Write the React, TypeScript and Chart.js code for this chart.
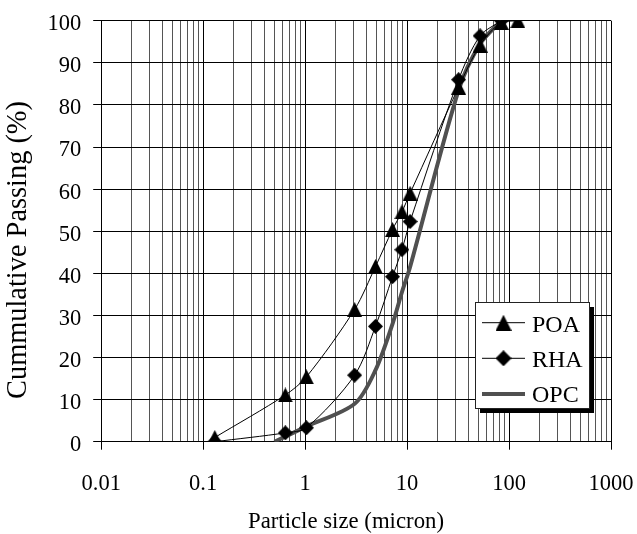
import React, { useEffect, useRef } from "react";
import { Chart, registerables } from "chart.js";

Chart.register(...registerables);

// ---- Data ----
const poaSize = [0.13, 0.64, 1.03, 3.06, 4.9, 7.2, 8.9, 10.7, 32, 52, 84, 122];
const poaPassing = [1, 11.1, 15.4, 31.4, 41.6, 50.4, 54.6, 59.0, 84.2, 94.2, 99.6, 100];

const rhaSize = [0.13, 0.64, 1.03, 3.06, 4.9, 7.2, 8.9, 10.7, 32, 52, 84];
const rhaPassing = [0, 2.1, 3.3, 15.8, 27.4, 39.2, 45.6, 52.3, 86, 96.4, 100];

const opcSize = [0.5, 1.03, 3.06, 4.9, 7.2, 8.9, 10.7, 32, 52, 84];
const opcPassing = [0, 3.6, 9, 17, 28, 35.5, 41.5, 83.5, 94.5, 100];

const xDecades = [0.01, 0.1, 1, 10, 100, 1000];
const xTickLabels = ["0.01", "0.1", "1", "10", "100", "1000"];
const yTickValues = [0, 10, 20, 30, 40, 50, 60, 70, 80, 90, 100];
const yTickLabels = ["0", "10", "20", "30", "40", "50", "60", "70", "80", "90", "100"];

const seriesNames = ["POA", "RHA", "OPC"];
const xTitle = "Particle size (micron)";
const yTitle = "Cummulative Passing (%)";

const FONT = "'Liberation Serif', 'Times New Roman', serif";
const TICK_FS = 22.5;

const isDecade = (v: number) => Math.abs(Math.log10(v) - Math.round(Math.log10(v))) < 1e-6;

const xGridValues: number[] = [];
xDecades.forEach((d, i) => {
  if (i === xDecades.length - 1) {
    xGridValues.push(d);
    return;
  }
  for (let m = 1; m <= 9; m++) xGridValues.push(+(d * m).toPrecision(6));
});

function makeMarker(kind: "triangle" | "diamond", size: number) {
  const c = document.createElement("canvas");
  c.width = size;
  c.height = size;
  const g = c.getContext("2d")!;
  g.fillStyle = "#000";
  g.beginPath();
  if (kind === "triangle") {
    g.moveTo(size / 2, 0);
    g.lineTo(size, size);
    g.lineTo(0, size);
  } else {
    g.moveTo(size / 2, 0);
    g.lineTo(size, size / 2);
    g.lineTo(size / 2, size);
    g.lineTo(0, size / 2);
  }
  g.closePath();
  g.fill();
  return c;
}

// draw text so that it spans exactly `span` pixels along its direction
function fitText(ctx: CanvasRenderingContext2D, text: string, span: number, ref: number) {
  ctx.font = `${ref}px ${FONT}`;
  const w = ctx.measureText(text).width;
  const size = (ref * span) / w;
  ctx.font = `${size}px ${FONT}`;
}

export default function App() {
  const ref = useRef<HTMLCanvasElement | null>(null);

  useEffect(() => {
    if (!ref.current) return;
    document.body.style.margin = "0";
    const tri = makeMarker("triangle", 15);
    const dia = makeMarker("diamond", 15);
    const triL = makeMarker("triangle", 16);
    const diaL = makeMarker("diamond", 16);

    const titlesAndLegend = {
      id: "titlesAndLegend",
      afterDraw(chart: any) {
        const ctx = chart.ctx as CanvasRenderingContext2D;
        ctx.save();
        ctx.fillStyle = "#000";
        ctx.textAlign = "center";
        ctx.textBaseline = "alphabetic";
        // x title: spans x 248..444
        fitText(ctx, xTitle, 196, 22);
        ctx.fillText(xTitle, 346, 528.3);
        // y title: spans y 100..400
        ctx.save();
        ctx.translate(26, 250);
        ctx.rotate(-Math.PI / 2);
        fitText(ctx, yTitle, 298, 27);
        ctx.fillText(yTitle, 0, 0);
        ctx.restore();

        // legend box
        const left = 475, top = 302, w = 114, h = 106;
        ctx.fillStyle = "#000";
        ctx.fillRect(left + 5, top + 5, w, h);
        ctx.fillStyle = "#fff";
        ctx.fillRect(left, top, w, h);
        ctx.strokeStyle = "#222";
        ctx.lineWidth = 1;
        ctx.strokeRect(left + 0.5, top + 0.5, w, h);
        const rows = [322.7, 358.3, 394];
        const baselines = [331.7, 366.9, 401.9];
        const x0 = 482, x1 = 525, xm = 503.5;
        const markers = [triL, diaL, null];
        chart.data.datasets.forEach((ds: any, i: number) => {
          const y = rows[i];
          ctx.beginPath();
          ctx.strokeStyle = ds.borderColor;
          ctx.lineWidth = ds.borderWidth;
          ctx.moveTo(x0, y);
          ctx.lineTo(x1, y);
          ctx.stroke();
          const m = markers[i];
          if (m) ctx.drawImage(m, xm - m.width / 2, y - m.height / 2);
          ctx.fillStyle = "#000";
          ctx.font = `24px ${FONT}`;
          ctx.textAlign = "left";
          ctx.textBaseline = "alphabetic";
          ctx.fillText(seriesNames[i], 532, baselines[i]);
        });
        ctx.restore();
      },
    };

    const toPts = (xs: number[], ys: number[]) => xs.map((x, i) => ({ x, y: ys[i] }));
    const chart = new Chart(ref.current, {
      type: "line",
      data: {
        datasets: [
          {
            label: seriesNames[0],
            data: toPts(poaSize, poaPassing),
            borderColor: "#000",
            backgroundColor: "#000",
            borderWidth: 1,
            pointStyle: tri,
            pointRadius: 7.5,
            tension: 0.3,
            order: 0,
          },
          {
            label: seriesNames[1],
            data: toPts(rhaSize, rhaPassing),
            borderColor: "#000",
            backgroundColor: "#000",
            borderWidth: 1,
            pointStyle: dia,
            pointRadius: 7.5,
            tension: 0.3,
            order: 1,
          },
          {
            label: seriesNames[2],
            data: toPts(opcSize, opcPassing),
            borderColor: "#505050",
            backgroundColor: "#505050",
            borderWidth: 4,
            pointRadius: 0,
            tension: 0.3,
            order: 2,
          },
        ],
      },
      options: {
        animation: false,
        responsive: false,
        layout: { padding: { left: 0, top: 20.7, right: 26, bottom: 0 } },
        plugins: { legend: { display: false }, tooltip: { enabled: false } },
        scales: {
          x: {
            type: "logarithmic",
            min: 0.01,
            max: 1000,
            afterBuildTicks: (s: any) => {
              s.ticks = xGridValues.map((v) => ({ value: v, major: isDecade(v) }));
            },
            afterFit: (s: any) => {
              s.height = 92.3;
              s.paddingLeft = 0;
              s.paddingRight = 0;
              s.paddingTop = 0;
              s.paddingBottom = 0;
            },
            ticks: {
              autoSkip: false,
              maxRotation: 0,
              minRotation: 0,
              padding: 20.5,
              color: "#000",
              font: { family: FONT, size: TICK_FS },
              callback: (v: any) => {
                const idx = xDecades.findIndex((d) => Math.abs(d - v) / d < 1e-6);
                return idx >= 0 ? xTickLabels[idx] : "";
              },
            },
            grid: {
              color: (c: any) => (c.tick && isDecade(c.tick.value) ? "#000" : "#555"),
              tickColor: (c: any) => (c.tick && isDecade(c.tick.value) ? "#000" : "rgba(0,0,0,0)"),
              tickLength: 8,
              lineWidth: 1,
            },
            border: { color: "#000", width: 1 },
            title: { display: false },
          },
          y: {
            type: "linear",
            min: 0,
            max: 100,
            afterBuildTicks: (s: any) => {
              s.ticks = yTickValues.map((v) => ({ value: v }));
            },
            afterFit: (s: any) => {
              s.width = 101.2;
              s.paddingLeft = 0;
              s.paddingRight = 0;
              s.paddingTop = 0;
              s.paddingBottom = 0;
            },
            ticks: {
              padding: 12,
              labelOffset: 3.5,
              color: "#000",
              font: { family: FONT, size: TICK_FS },
              callback: (v: any) => {
                const idx = yTickValues.indexOf(v);
                return idx >= 0 ? yTickLabels[idx] : "";
              },
            },
            grid: { color: "#000", tickColor: "#000", tickLength: 8, lineWidth: 1 },
            border: { color: "#000", width: 1 },
            title: { display: false },
          },
        },
      },
      plugins: [titlesAndLegend],
    } as any);
    return () => chart.destroy();
  }, []);

  return (
    <div style={{ position: "absolute", left: 0, top: 0, width: 637, height: 534, background: "#fff" }}>
      <canvas ref={ref} width={637} height={534} style={{ display: "block" }} />
    </div>
  );
}
